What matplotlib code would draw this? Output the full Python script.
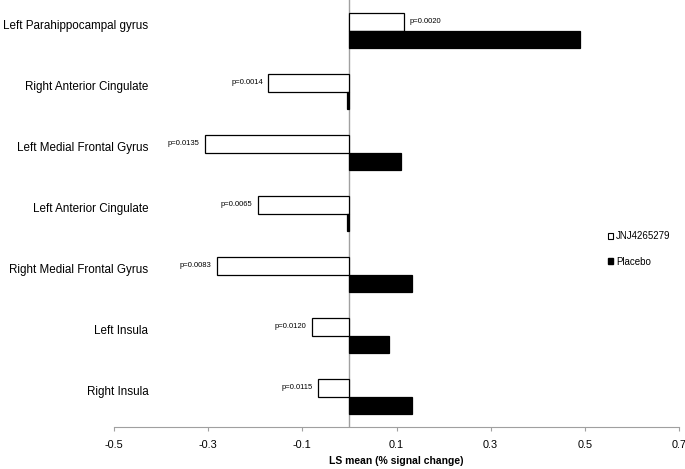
import matplotlib
matplotlib.use("Agg")
import matplotlib.pyplot as plt
from matplotlib.patches import Patch
import matplotlib.transforms as mtransforms
import numpy as np

plt.rcParams['font.family'] = ['Liberation Sans', 'DejaVu Sans']

regions = ["Left Parahippocampal gyrus", "Right Anterior Cingulate", "Left Medial Frontal Gyrus",
           "Left Anterior Cingulate", "Right Medial Frontal Gyrus", "Left Insula", "Right Insula"]
jnj = [0.115, -0.172, -0.307, -0.194, -0.281, -0.079, -0.066]
placebo = [0.490, -0.006, 0.110, -0.006, 0.132, 0.084, 0.133]
pvals = ["p=0.0020", "p=0.0014", "p=0.0135", "p=0.0065", "p=0.0083", "p=0.0120", "p=0.0115"]
xticks = [-0.5, -0.3, -0.1, 0.1, 0.3, 0.5, 0.7]

fig = plt.figure(figsize=(6.85, 4.69), dpi=100)
ax = fig.add_axes([114/685, 42/469, 565/685, 427/469])

y = np.arange(len(regions))
h = 0.29
ax.barh(y - h/2, jnj, height=h, color='white', edgecolor='black', linewidth=0.9, zorder=3)
ax.barh(y + h/2, placebo, height=h, color='black', edgecolor='black', linewidth=0.9, zorder=3)
ax.axvline(0, color='#a0a0a0', linewidth=1, zorder=2)

ax.set_xlim(-0.5, 0.7)
ax.set_ylim(len(regions) - 0.5, -0.5)
ax.set_xticks(xticks)
ax.set_xticklabels([f"{t:g}" for t in xticks], fontsize=7.8)
ax.tick_params(axis='x', direction='out', length=3, color='#a0a0a0', pad=6)
ax.set_yticks([])
for s in ['left', 'right', 'top']:
    ax.spines[s].set_visible(False)
ax.spines['bottom'].set_color('#a0a0a0')
ax.set_xlabel("LS mean (% signal change)", fontsize=7.5, fontweight='bold', labelpad=5)

trans = mtransforms.blended_transform_factory(ax.transAxes, ax.transData)
for i, r in enumerate(regions):
    ax.text(0.061, i - 0.07, r, transform=trans, ha='right', va='center', fontsize=8.4)

for i, (v, p) in enumerate(zip(jnj, pvals)):
    if v >= 0:
        ax.text(v + 0.012, i - h/2, p, ha='left', va='center', fontsize=5.5)
    else:
        ax.text(v - 0.012, i - h/2, p, ha='right', va='center', fontsize=5.5)

handles = [Patch(facecolor='white', edgecolor='black', linewidth=0.8, label='JNJ4265279'),
           Patch(facecolor='black', edgecolor='black', label='Placebo')]
ax.legend(handles=handles, loc='center left', bbox_to_anchor=(0.865, 0.417), frameon=False,
          fontsize=7, handlelength=0.6, handleheight=0.6, handletextpad=0.3, labelspacing=1.6,
          borderpad=0)

fig.savefig("out.png", dpi=100)
